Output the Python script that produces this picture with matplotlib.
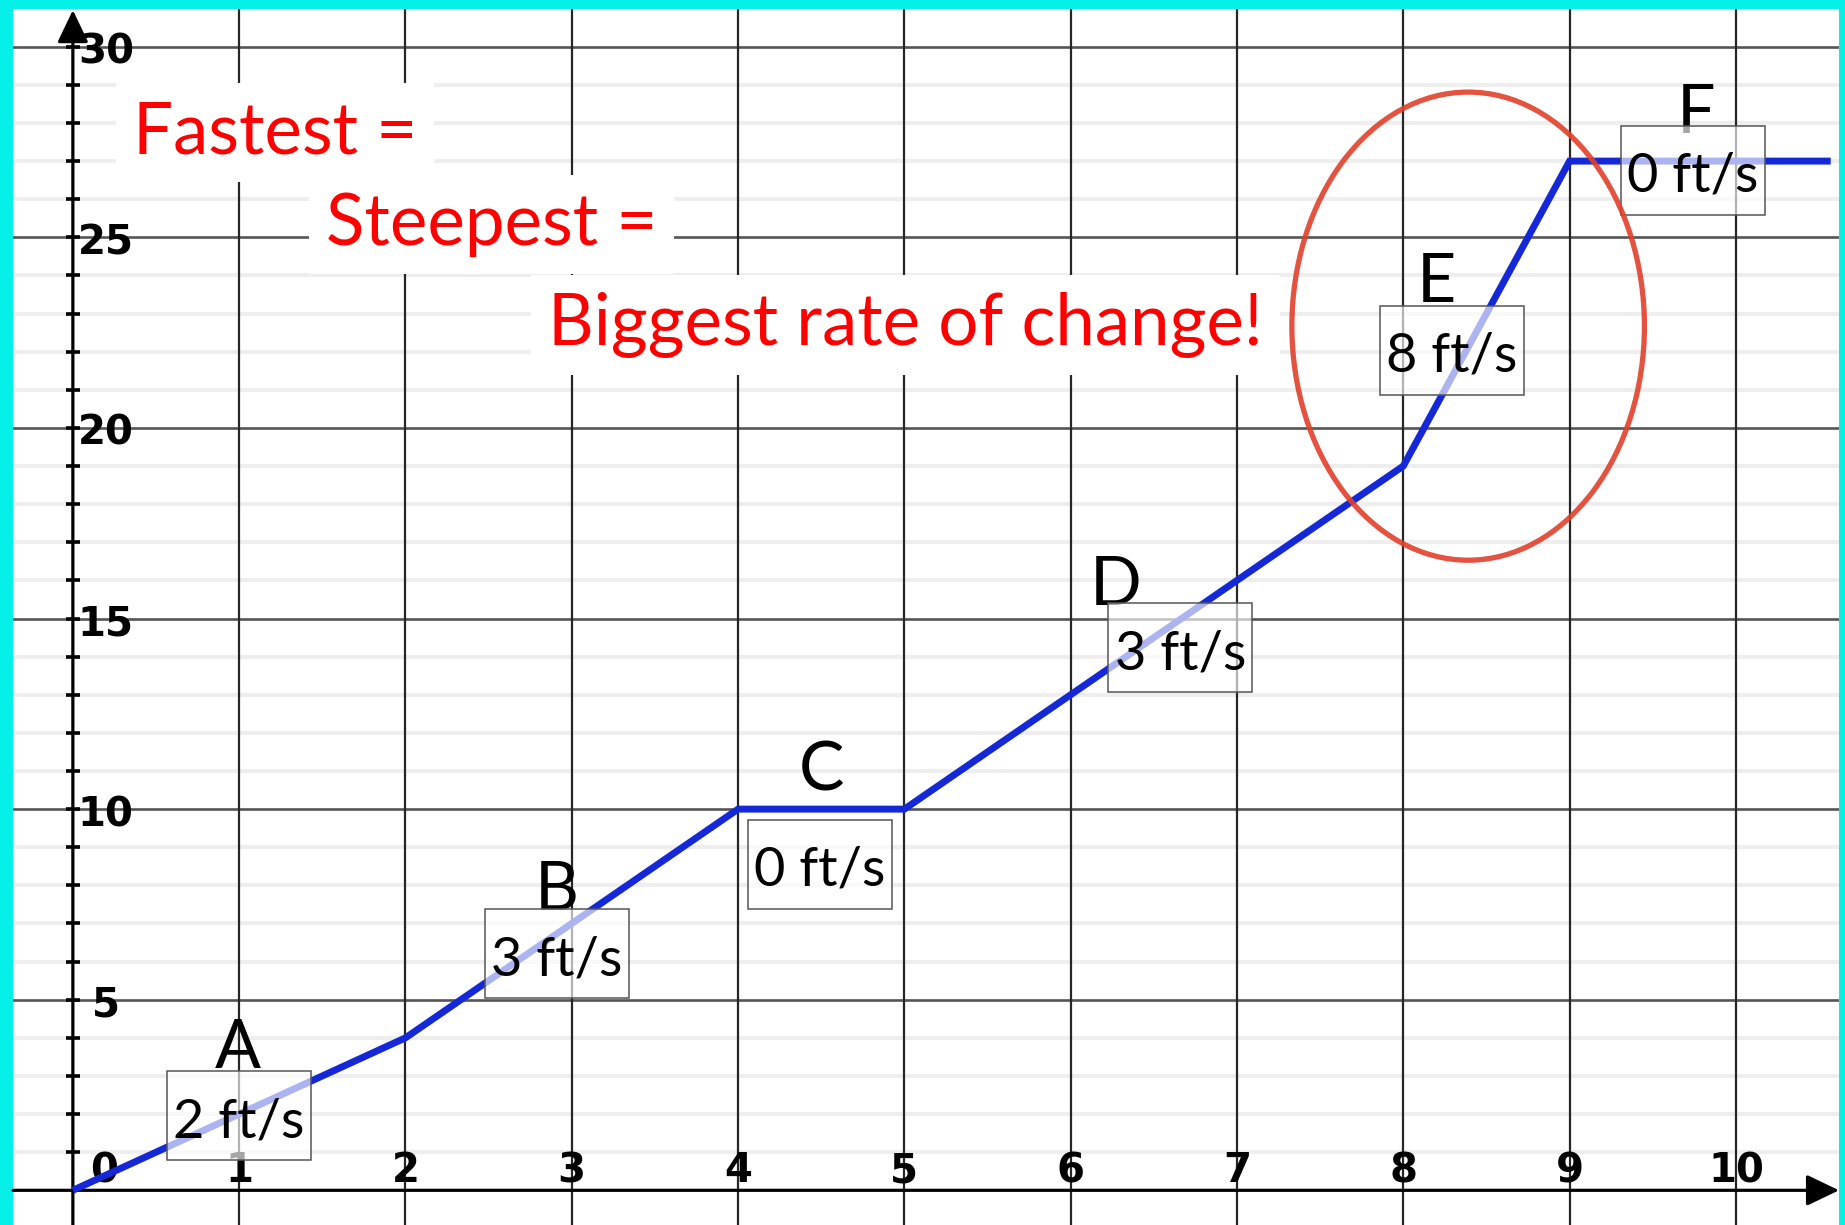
import matplotlib
matplotlib.use("Agg")
import matplotlib.pyplot as plt
from matplotlib.patches import Ellipse, Rectangle

# ---- data ----
time_s = [0, 2, 4, 5, 8, 9, 10.57]
dist_ft = [0, 4, 10, 10, 19, 27, 27]

seg_letters = ["A", "B", "C", "D", "E", "F"]
seg_rates = ["2 ft/s", "3 ft/s", "0 ft/s", "3 ft/s", "8 ft/s", "0 ft/s"]
letter_x = [0.99, 2.91, 4.50, 6.27, 8.20, 9.76]
letter_y = [3.20, 7.36, 10.50, 15.36, 23.30, 27.74]
box_x = [1.00, 2.91, 4.49, 6.66, 8.29, 9.74]
box_y = [1.95, 6.20, 8.56, 14.23, 22.04, 26.76]

x_tick_vals = [1, 2, 3, 4, 5, 6, 7, 8, 9, 10]
y_tick_vals = [5, 10, 15, 20, 25, 30]
y_unit_vals = list(range(1, 31))

red_texts = ["Fastest =", "Steepest =", "Biggest rate of change!"]
red_x = [0.361, 1.521, 2.856]
red_y = [27.21, 24.80, 22.17]

ellipse_center = (8.39, 22.67)
ellipse_size = (2.12, 12.28)

# ---- figure ----
W, H = 1845, 1225
fig = plt.figure(figsize=(W / 100, H / 100), dpi=100, facecolor="#04f0e8")
ax = fig.add_axes([13 / W, 0, (1839 - 13) / W, (H - 9) / H])
ax.set_facecolor("white")
XMIN, XMAX, YMIN, YMAX = -0.36, 10.62, -0.91, 30.99
ax.set_xlim(XMIN, XMAX)
ax.set_ylim(YMIN, YMAX)
for s in ax.spines.values():
    s.set_visible(False)
ax.set_xticks([])
ax.set_yticks([])

# grid
for v in y_unit_vals:
    if v % 5:
        ax.axhline(v, color="#eeeeee", lw=2.9, zorder=0.2)
for v in y_tick_vals:
    ax.axhline(v, color="#555555", lw=1.9, zorder=0.4)
for v in x_tick_vals:
    ax.axvline(v, color="#262626", lw=1.6, zorder=0.6)

# axes with arrows
arrow_kw = dict(arrowstyle="-|>,head_length=1.0,head_width=0.48",
                color="black", lw=2.3, shrinkA=0, shrinkB=0, mutation_scale=20)
ax.annotate("", xy=(XMAX, 0), xytext=(XMIN, 0), arrowprops=arrow_kw,
            annotation_clip=False, zorder=2)
ax.annotate("", xy=(0, 30.96), xytext=(0, YMIN), arrowprops=arrow_kw,
            annotation_clip=False, zorder=2)
ax.plot([0] * len(y_unit_vals), y_unit_vals, ls="none", marker="_",
        ms=10, mew=2.6, color="black", zorder=2, clip_on=False)

tick_font = dict(family="DejaVu Sans", weight="bold", fontsize=29, color="black")
for v in x_tick_vals:
    ax.annotate(str(v), xy=(v, 0), xytext=(0, 8), textcoords="offset pixels",
                ha="center", va="baseline", zorder=2.5, **tick_font)
for v in y_tick_vals:
    ax.annotate(str(v), xy=(0, v), xytext=(33, -17), textcoords="offset pixels",
                ha="center", va="baseline", zorder=2.5, **tick_font)
ax.annotate("0", xy=(0, 0), xytext=(31, 8), textcoords="offset pixels",
            ha="center", va="baseline", zorder=2.5, **tick_font)

# distance-time line
ax.plot(time_s, dist_ft, color="#1428d8", lw=5, zorder=3,
        solid_joinstyle="miter", solid_capstyle="butt")

# red statements
for t, x, y in zip(red_texts, red_x, red_y):
    ax.text(x, y, t, color="#ff0000", fontsize=51, family="Lato",
            ha="left", va="baseline", zorder=4,
            bbox=dict(boxstyle="square,pad=0.24", fc="white", ec="none"))

# segment letters and rate boxes
for L, x, y in zip(seg_letters, letter_x, letter_y):
    ax.text(x, y, L, color="black", fontsize=49, family="Lato",
            ha="center", va="baseline", zorder=5)
BW, BH = 144 / 166.3, 89 / 38.12
for r, x, y in zip(seg_rates, box_x, box_y):
    ax.add_patch(Rectangle((x - BW / 2, y - BH / 2), BW, BH,
                           fc=(1, 1, 1, 0.65), ec="#555555", lw=1.1, zorder=6))
    ax.text(x, y - 0.15, r, color="black", fontsize=39, family="Lato",
            ha="center", va="center", zorder=6.5)

# red ellipse around steepest part
ax.add_patch(Ellipse(ellipse_center, ellipse_size[0], ellipse_size[1],
                     fill=False, ec="#e0402a", lw=3.8, alpha=0.9, zorder=7))

fig.savefig("out.png", dpi=100, facecolor=fig.get_facecolor())
